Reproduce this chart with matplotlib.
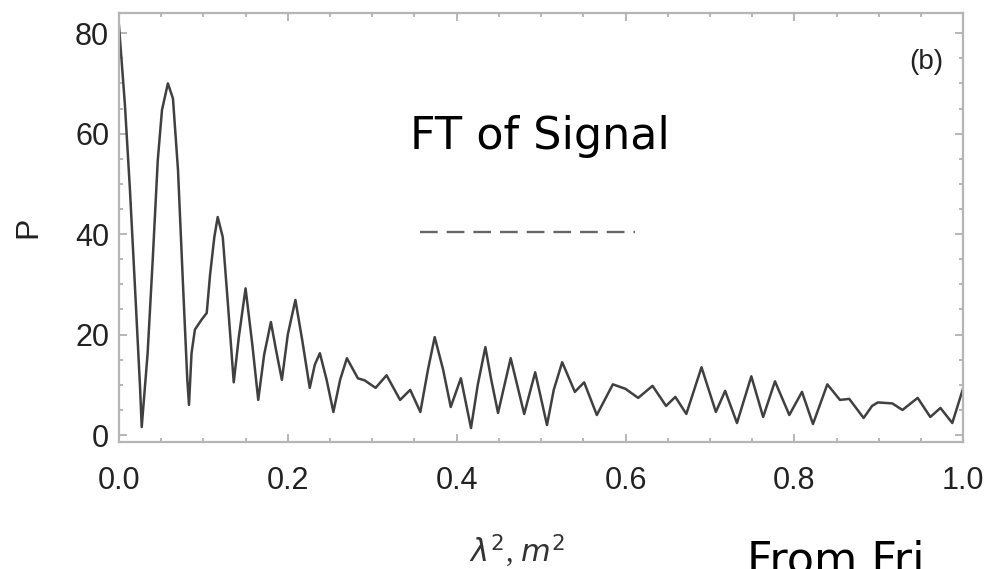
import numpy as np
import matplotlib.pyplot as plt
from matplotlib.ticker import MultipleLocator

# curve (lambda^2 in m^2, P)
lam2 = [0.000, 0.007, 0.013, 0.019, 0.025, 0.027, 0.034, 0.040, 0.046, 0.051,
        0.058, 0.064, 0.070, 0.076, 0.081, 0.083, 0.086, 0.090, 0.098, 0.104,
        0.108, 0.113, 0.117, 0.123, 0.129, 0.136, 0.142, 0.150, 0.158, 0.165,
        0.172, 0.180, 0.186, 0.193, 0.200, 0.209, 0.217, 0.226, 0.232, 0.238,
        0.246, 0.254, 0.262, 0.270, 0.283, 0.291, 0.304, 0.317, 0.333, 0.345,
        0.357, 0.366, 0.374, 0.384, 0.393, 0.405, 0.417, 0.425, 0.434, 0.441,
        0.449, 0.464, 0.480, 0.493, 0.507, 0.515, 0.525, 0.540, 0.551, 0.566,
        0.585, 0.600, 0.615, 0.632, 0.648, 0.659, 0.672, 0.690, 0.707, 0.718,
        0.732, 0.749, 0.763, 0.777, 0.794, 0.809, 0.822, 0.839, 0.854, 0.865,
        0.882, 0.892, 0.899, 0.916, 0.928, 0.946, 0.961, 0.973, 0.987, 1.000]
P = [81.6, 66.0, 49.0, 29.5, 9.6, 1.6, 16.3, 34.8, 54.7, 64.7,
     70.0, 67.0, 52.7, 29.5, 11.0, 6.0, 16.3, 21.0, 23.0, 24.3,
     32.0, 39.4, 43.4, 39.4, 26.3, 10.5, 19.5, 29.2, 18.0, 7.0,
     16.0, 22.5, 17.0, 11.0, 20.0, 26.9, 19.0, 9.4, 14.0, 16.3,
     11.0, 4.6, 11.0, 15.3, 11.3, 10.9, 9.4, 11.9, 7.0, 9.0,
     4.6, 13.0, 19.5, 13.0, 5.6, 11.3, 1.4, 10.0, 17.5, 11.0,
     4.4, 15.3, 4.2, 12.5, 2.0, 9.0, 14.5, 8.6, 10.5, 4.0,
     10.1, 9.2, 7.4, 9.8, 5.8, 7.6, 4.2, 13.5, 4.6, 8.8,
     2.4, 11.7, 3.6, 10.7, 4.0, 8.6, 2.2, 10.1, 7.0, 7.2,
     3.4, 5.8, 6.5, 6.3, 5.0, 7.4, 3.6, 5.4, 2.4, 9.4]

# dashed legend-like line
dash_x = [0.357, 0.611]
dash_y = [40.4, 40.4]

xticks = [0.0, 0.2, 0.4, 0.6, 0.8, 1.0]
yticks = [0, 20, 40, 60, 80]

fig = plt.figure(figsize=(9.91, 5.69), dpi=100)
ax = fig.add_axes([0.120, 0.223, 0.852, 0.754])

ax.plot(lam2, P, color='#404040', lw=1.8, solid_joinstyle='round')
line, = ax.plot(dash_x, dash_y, color='#666666', lw=1.7)
line.set_dashes((7.5, 3.8))

ax.set_xlim(0, 1)
ax.set_ylim(-1.4, 84)
ax.set_xticks(xticks)
ax.set_xticklabels(['%.1f' % v for v in xticks])
ax.set_yticks(yticks)
ax.xaxis.set_minor_locator(MultipleLocator(0.05))
ax.yaxis.set_minor_locator(MultipleLocator(5))
ax.tick_params(which='both', direction='in', top=True, right=True,
               color='#aaaaaa', width=1.2)
ax.tick_params(which='major', length=6, labelsize=22, labelcolor='#222222',
               labelfontfamily='Liberation Sans')
ax.tick_params(axis='x', which='major', pad=17)
ax.tick_params(axis='y', which='major', pad=7)
ax.tick_params(which='minor', length=3)
for s in ax.spines.values():
    s.set_color('#b5b5b5')
    s.set_linewidth(1.6)

ax.set_ylabel('P', fontsize=23, family='Liberation Sans', color='#222222')
ax.yaxis.set_label_coords(-0.09, 0.5)

plt.rcParams['mathtext.fontset'] = 'stix'
ax.set_xlabel(r'$\lambda^2$, $m^2$', fontsize=22, color='#333333',
              family='Liberation Serif')
ax.xaxis.set_label_coords(0.472, -0.21)

ax.text(0.976, 0.885, '(b)', transform=ax.transAxes, ha='right', va='center',
        fontsize=20, family='Liberation Sans', color='#222222')
fig.text(0.414, 0.76, 'FT of Signal', fontsize=32, family='DejaVu Sans',
         va='center', ha='left')
fig.text(0.754, 0.052, 'From Fri', fontsize=32, family='DejaVu Sans',
         va='top', ha='left')

fig.savefig('out.png', dpi=100)
